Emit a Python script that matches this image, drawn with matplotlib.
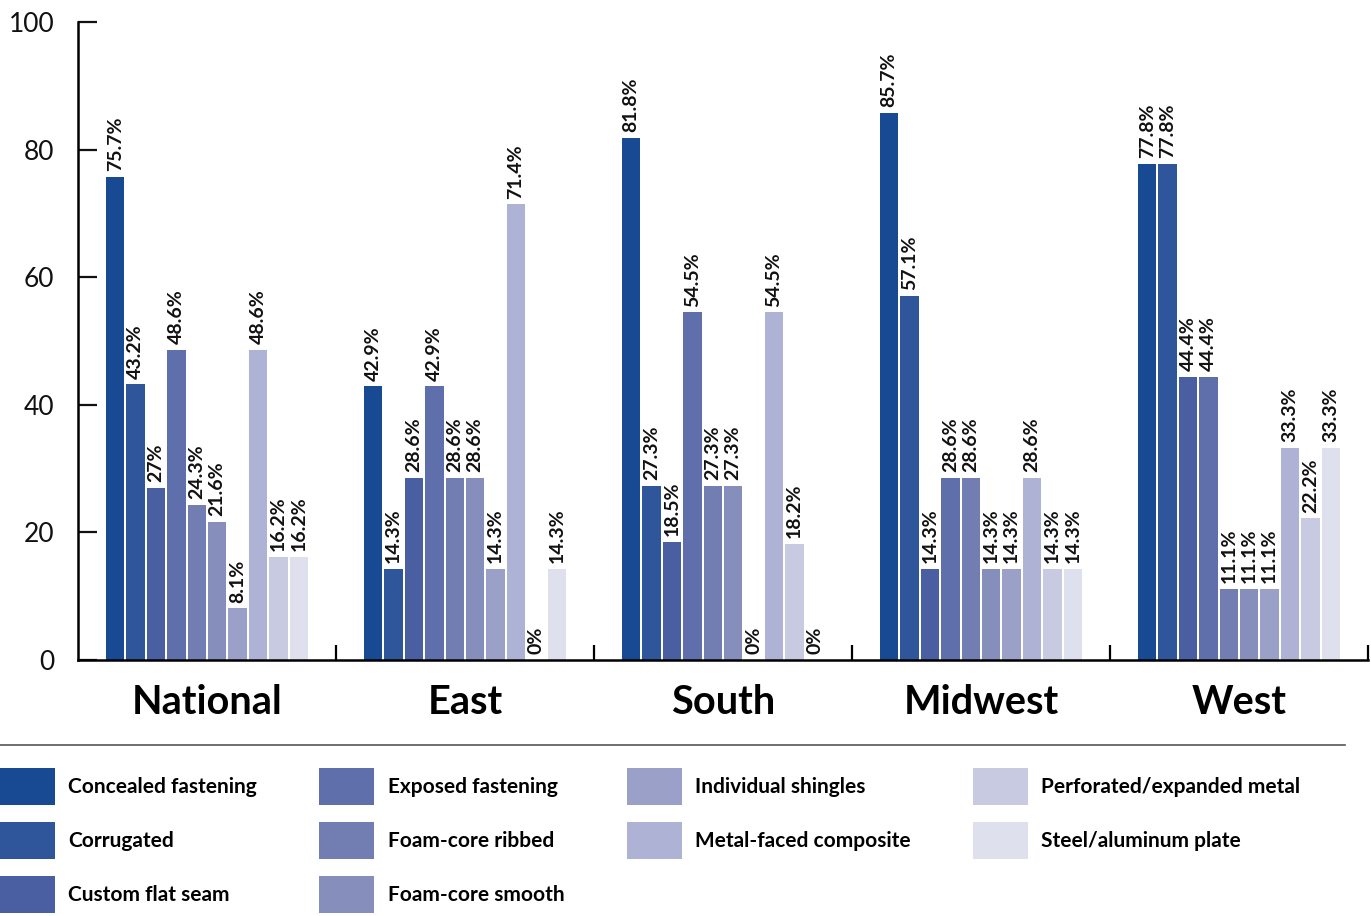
import matplotlib
matplotlib.use("Agg")
import matplotlib.pyplot as plt
from matplotlib.lines import Line2D
import numpy as np

plt.rcParams['font.family'] = ['Lato', 'DejaVu Sans']

regions = ["National", "East", "South", "Midwest", "West"]
products = ["Concealed fastening", "Corrugated", "Custom flat seam",
            "Exposed fastening", "Foam-core ribbed", "Foam-core smooth",
            "Individual shingles", "Metal-faced composite",
            "Perforated/expanded metal", "Steel/aluminum plate"]
colors = ["#174a93", "#2f559b", "#4a5fa1", "#5f6fab", "#727db2",
          "#868ebb", "#9aa0c8", "#aeb2d4", "#c8cae2", "#dfe0ee"]

# percent per product, one list per product, in region order
concealed = [75.7, 42.9, 81.8, 85.7, 77.8]
corrugated = [43.2, 14.3, 27.3, 57.1, 77.8]
custom_flat = [27, 28.6, 18.5, 14.3, 44.4]
exposed = [48.6, 42.9, 54.5, 28.6, 44.4]
foam_ribbed = [24.3, 28.6, 27.3, 28.6, 11.1]
foam_smooth = [21.6, 28.6, 27.3, 14.3, 11.1]
shingles = [8.1, 14.3, 0, 14.3, 11.1]
metal_faced = [48.6, 71.4, 54.5, 28.6, 33.3]
perforated = [16.2, 0, 18.2, 14.3, 22.2]
steel_plate = [16.2, 14.3, 0, 14.3, 33.3]
series = [concealed, corrugated, custom_flat, exposed, foam_ribbed,
          foam_smooth, shingles, metal_faced, perforated, steel_plate]

fig = plt.figure(figsize=(13.71, 9.16), dpi=100)
ax = fig.add_axes([78/1371, 1-660/916, 1290/1371, 638/916])

x = np.arange(len(regions))
slot = 0.0791
n = len(series)
for i, vals in enumerate(series):
    pos = x + (i - (n-1)/2) * slot
    ax.bar(pos, vals, width=slot*0.91, color=colors[i], label=products[i])
    for p, v in zip(pos, vals):
        ax.text(p, v + 0.9, f"{v:g}%", rotation=90, ha='center', va='bottom',
                fontsize=14, fontweight='bold', color='#111111')

ax.set_xlim(-0.5, len(regions) - 0.5)
ax.set_ylim(0, 100)
ax.set_yticks([0, 20, 40, 60, 80, 100])
ax.tick_params(axis='y', direction='in', length=14, width=1.6,
               labelsize=19, pad=17, colors='#111111')
ax.set_xticks(np.append(x[:-1] + 0.5, len(regions) - 0.5))
ax.tick_params(axis='x', which='major', direction='in', length=11,
               width=1.6, labelbottom=False)
ax.set_xticks(x, minor=True)
ax.set_xticklabels(regions, minor=True)
ax.tick_params(axis='x', which='minor', length=0, pad=17, labelsize=28.5)
for lbl in ax.get_xticklabels(minor=True):
    lbl.set_fontweight('bold')

for s in ['top', 'right']:
    ax.spines[s].set_visible(False)
for s in ['left', 'bottom']:
    ax.spines[s].set_linewidth(1.8)

fig.add_artist(Line2D([0, 1345/1371], [1-745/916, 1-745/916],
                      color='#555555', lw=1.2))

leg = fig.legend(loc='upper left', bbox_to_anchor=(0, 1-768/916), ncol=4,
                 frameon=False, fontsize=15, handlelength=2.64,
                 handleheight=2.36, labelspacing=0.82, handletextpad=0.63,
                 columnspacing=3.0, borderpad=0, borderaxespad=0)
for t in leg.get_texts():
    t.set_fontweight('bold')

fig.savefig("out.png", dpi=100)
